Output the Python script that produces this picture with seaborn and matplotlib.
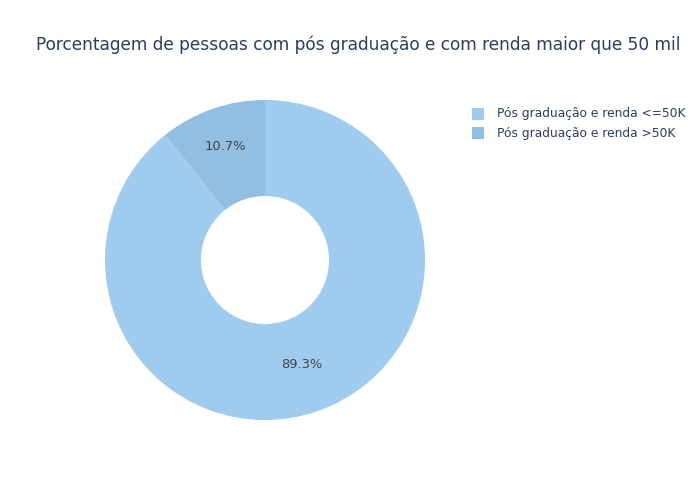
import matplotlib
matplotlib.use("Agg")
import matplotlib.pyplot as plt
import seaborn as sns
import numpy as np
from matplotlib.patches import Rectangle

categories = ["Pós graduação e renda <=50K", "Pós graduação e renda >50K"]
values = [89.3, 10.7]
colors = ["#9ecbee", "#92bee2"]
title = "Porcentagem de pessoas com pós graduação e com renda maior que 50 mil"

sns.set_theme(style="white")
plt.rcParams['font.family'] = ['DejaVu Sans']

fig = plt.figure(figsize=(7, 5), dpi=100)
fig.patch.set_facecolor("white")

# pie axes: center (265,260) px, radius 160 px
ax = fig.add_axes([105/700, 80/500, 320/700, 320/500])
wedges, texts, autotexts = ax.pie(
    values, colors=sns.color_palette(colors), startangle=90, counterclock=False,
    radius=1.0, autopct="%.1f%%", pctdistance=0.72,
    wedgeprops=dict(width=0.6, linewidth=0),
    textprops=dict(color="#444444", fontsize=9.4))
# fine-tune label radial placement (plotly-like)
for w, t, r in zip(wedges, autotexts, [0.69, 0.75]):
    ang = np.deg2rad((w.theta1 + w.theta2) / 2)
    t.set_position((r * np.cos(ang), r * np.sin(ang)))
ax.set_xlim(-1, 1)
ax.set_ylim(-1, 1)
ax.set_aspect("equal")
ax.axis("off")

fig.text(36/700, 1 - 45/500, title, fontsize=12.27, color="#2a3f5f",
         ha="left", va="center")

# legend
ys = [114, 133]
for cat, col, y in zip(categories, colors, ys):
    fig.patches.append(Rectangle(((472)/700, 1 - (y + 6)/500), 12/700, 12/500,
                                 transform=fig.transFigure, facecolor=col,
                                 edgecolor="none"))
    fig.text(497/700, 1 - y/500, cat, fontsize=8.8, color="#2a3f5f",
             ha="left", va="center")

fig.savefig("out.png", dpi=100)
